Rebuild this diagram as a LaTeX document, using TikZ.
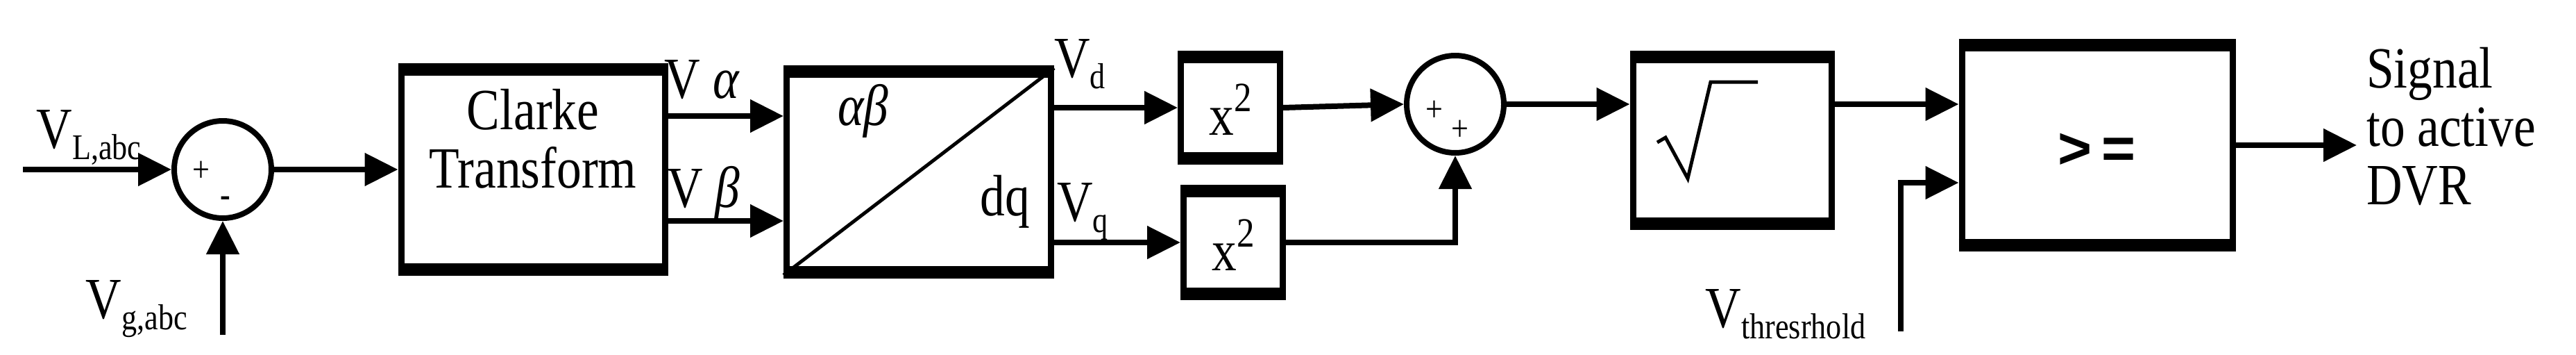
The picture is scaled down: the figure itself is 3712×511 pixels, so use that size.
\documentclass[tikz,border=0pt]{standalone}
\usepackage{fontspec}
\setmainfont[FakeStretch=0.85]{Liberation Serif}
\setsansfont{Liberation Sans}
\usetikzlibrary{arrows.meta}
\newcommand{\mysub}[1]{{\fontsize{52}{52}\selectfont\raisebox{-16pt}{#1}}}
\newcommand{\mysqr}{x{\fontsize{60}{60}\selectfont\raisebox{34pt}{2}}}
\tikzset{
  blk/.style={draw, line width=9pt, inner sep=0pt},
  sig/.style={line width=8pt, -{Triangle[length=48pt,width=46pt]}},
  sumnode/.style={circle, draw, line width=8pt, minimum size=140pt, inner sep=0pt},
  lbl/.style={inner sep=0pt, font=\fontsize{84}{88}\selectfont},
  sgn/.style={inner sep=0pt, font=\fontsize{52}{52}\selectfont}
}
\begin{document}
\begin{tikzpicture}[x=1pt,y=-1pt]
\useasboundingbox (0,0) rectangle (3712,511);
% boxes
\node[blk, minimum width=380pt, minimum height=288pt] (clarke) at (768,244) {};
\node[blk, minimum width=381pt, minimum height=289pt] (park) at (1324,247) {};
\node[blk, minimum width=143pt, minimum height=146pt] (sq1) at (1773,155) {};
\node[blk, minimum width=143pt, minimum height=148pt] (sq2) at (1777,349) {};
\node[blk, minimum width=286pt, minimum height=240pt] (sqrt) at (2496,202) {};
\node[blk, minimum width=390pt, minimum height=288pt] (cmp) at (3022,209) {};
% thicker top/bottom edges
\foreach \b in {clarke,park,sq1,sq2,sqrt,cmp}{
  \draw[line width=18pt] ([yshift=-4.5pt]\b.north west) -- ([yshift=-4.5pt]\b.north east);
  \draw[line width=18pt] ([yshift=4.5pt]\b.south west) -- ([yshift=4.5pt]\b.south east);
}
\node[sumnode] (s1) at (321,244) {};
\node[sumnode] (s2) at (2097,150) {};
% texts
\node[lbl, align=center] (tclarke) at (768,200) {Clarke\\[-4pt]Transform};
\draw[line width=5pt] (park.south west) -- (park.north east);
\node[lbl] (tab) at (1244,160) {\textit{αβ}};
\node[lbl] (tdq) at (1448,290) {dq};
\node[lbl] (tx1) at (1773,158) {\mysqr};
\node[lbl] (tx2) at (1777,353) {\mysqr};
\node[lbl] (tge) at (3022,217) {\textsf{\textbf{>\,=}}};
\node[sgn] (p1) at (290,247) {+};
\node[sgn] (m1) at (325,290) {\textbf{-}};
\node[sgn] (p2) at (2067,160) {+};
\node[sgn] (p3) at (2104,188) {+};
\node[lbl] (lvl) at (128,198) {V\mysub{L,abc}};
\node[lbl] (lvg) at (197,445) {V\mysub{g,abc}};
\node[lbl] (lva) at (1012,115) {V \textit{α}};
\node[lbl] (lvb) at (1014,278) {V \textit{β}};
\node[lbl] (lvd) at (1556,92) {V\mysub{d}};
\node[lbl] (lvq) at (1560,305) {V\mysub{q}};
\node[lbl] (lvt) at (2573,452) {V\mysub{thresrhold}};
\node[lbl, align=left, anchor=west] (out) at (3410,182) {Signal\\[-4pt]to active\\[-4pt]DVR};
% sqrt symbol
\draw[line width=5pt, line join=miter] (2388,205) -- (2400,198) -- (2432,257) -- (2465,118) -- (2533,118);
% connectors
\coordinate (inL) at (33,244);
\coordinate (inG) at (321,482);
\coordinate (inT) at (2739,477);
\draw[sig] (inL) -- (s1.west);
\draw[sig] (inG) -- (s1.south);
\draw[sig] (s1.east) -- (clarke.west);
\draw[sig] (clarke.east |- 0,167) -- (park.west |- 0,167);
\draw[sig] (clarke.east |- 0,318) -- (park.west |- 0,318);
\draw[sig] (park.east |- sq1.west) -- (sq1.west);
\draw[sig] (park.east |- sq2.west) -- (sq2.west);
\draw[sig] (sq1.east) -- (s2.west);
\draw[sig] (sq2.east) -| (s2.south);
\draw[sig] (s2.east) -- (sqrt.west |- s2.east);
\draw[sig] (sqrt.east |- 0,150) -- (cmp.west |- 0,150);
\draw[sig] (inT) |- (cmp.west |- 0,263);
\draw[sig, shorten >=14pt] (cmp.east) -- (out.west |- cmp.east);
\end{tikzpicture}
\end{document}
